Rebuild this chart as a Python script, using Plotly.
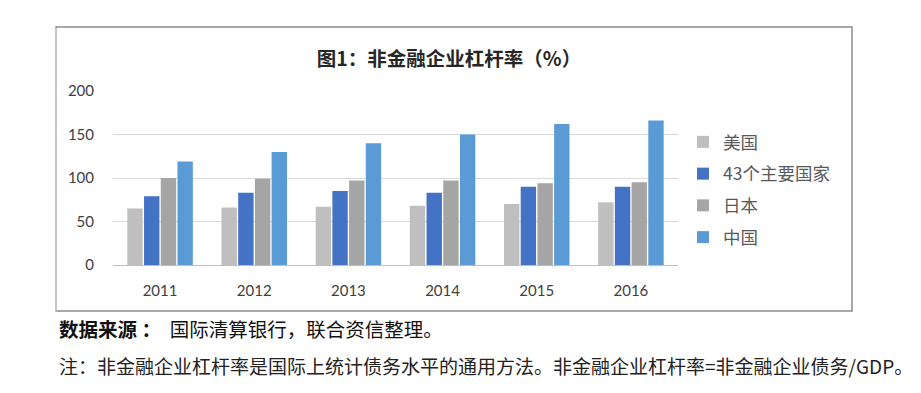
import plotly.graph_objects as go

years = ["2011", "2012", "2013", "2014", "2015", "2016"]
usa = [65, 66, 67, 68, 70, 72]
major43 = [79, 83, 85, 83, 90, 90]
japan = [100, 99, 97, 97, 94, 95]
china = [119, 130, 140, 150, 162, 166]

series_names = ["美国", "43个主要国家", "日本", "中国"]
series_vals = [usa, major43, japan, china]
colors = ["#BFBFBF", "#4472C4", "#A5A5A5", "#5B9BD5"]

title_text = "<b>图1：非金融企业杠杆率（%）</b>"
source_text = "<b>数据来源 ：</b>  国际清算银行，联合资信整理。"
note_text = "注：非金融企业杠杆率是国际上统计债务水平的通用方法。非金融企业杠杆率=非金融企业债务/GDP。"

CJK = "Noto Sans CJK SC"
fig = go.Figure()
for i, (name, vals, c) in enumerate(zip(series_names, series_vals, colors)):
    fig.add_trace(go.Bar(x=years, y=vals, name=name, marker_color=c,
                         marker_line_width=0, legendgroup=str(i)))

OFF = 8  # page body margin
W, H = 921 - OFF, 393 - OFF
L, R, T, B = 113 - OFF, 678 - OFF, 91 - OFF, 265 - OFF
pw, ph = R - L, B - T
def px(x):
    return (x - OFF - L) / pw
def py(y):
    return (B - (y - OFF)) / ph

fig.update_layout(
    width=W, height=H,
    margin=dict(l=L, r=W - R, t=T, b=H - B),
    paper_bgcolor="white", plot_bgcolor="white",
    barmode="group", bargap=0.29, bargroupgap=0.08,
    font=dict(family=CJK, color="#595959"),
    title=dict(text=title_text, x=(449 - OFF) / W, y=1 - (59 - OFF) / H,
               xanchor="center", yanchor="middle",
               font=dict(size=19.5, color="#262626", family=CJK)),
    legend=dict(x=px(683), y=py(124), xanchor="left", yanchor="top",
                font=dict(size=17.5, color="#595959", family=CJK),
                tracegroupgap=6, bgcolor="rgba(0,0,0,0)"),
    xaxis=dict(showgrid=False, showline=True, linecolor="#BFBFBF", linewidth=1,
               ticks="", tickfont=dict(size=15, family="Lato", color="#404040"),
               ticklabelstandoff=12),
    yaxis=dict(range=[0, 200], tickvals=[0, 50, 100, 150, 200], showgrid=True,
               gridcolor="#D9D9D9", gridwidth=1, zeroline=False, showline=False,
               ticks="", tickfont=dict(size=15, family="Lato", color="#404040"),
               ticklabelstandoff=18),
)

# outer frame
fig.add_shape(type="rect", xref="paper", yref="paper",
              x0=px(56), x1=px(852), y0=py(311), y1=py(27),
              line=dict(color="#8C8C8C", width=1.5), layer="below")
fig.add_shape(type="line", xref="paper", yref="paper",
              x0=px(56), x1=px(56), y0=py(311), y1=py(28),
              line=dict(color="#D0D0D0", width=1.5))

fig.add_annotation(text=source_text, xref="paper", yref="paper",
                   x=px(57), y=py(328), xanchor="left", yanchor="middle",
                   showarrow=False, font=dict(size=19.5, color="#111111", family=CJK))
fig.add_annotation(text=note_text, xref="paper", yref="paper",
                   x=px(57), y=py(365), xanchor="left", yanchor="middle",
                   showarrow=False, font=dict(size=19, color="#222222", family=CJK))

fig.write_html("out.html")
